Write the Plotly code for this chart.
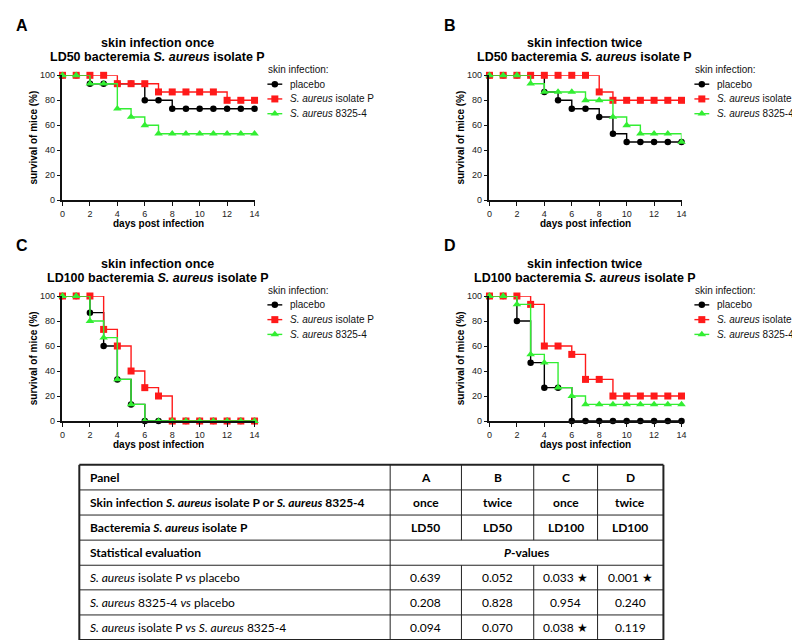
import plotly.graph_objects as go

W, H = 800, 640

# ---------------- data ----------------
days = list(range(0, 15))
x_ticks = [0, 2, 4, 6, 8, 10, 12, 14]
y_ticks = [0, 20, 40, 60, 80, 100]

series_names = ["placebo", "<i>S. aureus</i> isolate P", "<i>S. aureus</i> 8325-4"]

A_placebo = [100, 100, 93.3, 93.3, 93.3, 93.3, 80, 80, 73.3, 73.3, 73.3, 73.3, 73.3, 73.3, 73.3]
A_isolateP = [100, 100, 100, 100, 93.3, 93.3, 93.3, 86.7, 86.7, 86.7, 86.7, 86.7, 80, 80, 80]
A_8325 = [100, 100, 93.3, 93.3, 73.3, 66.7, 60, 53.3, 53.3, 53.3, 53.3, 53.3, 53.3, 53.3, 53.3]

B_placebo = [100, 100, 100, 100, 86.7, 80, 73.3, 73.3, 66.7, 53.3, 46.7, 46.7, 46.7, 46.7, 46.7]
B_isolateP = [100, 100, 100, 100, 100, 100, 100, 100, 86.7, 80, 80, 80, 80, 80, 80]
B_8325 = [100, 100, 100, 93.3, 86.7, 86.7, 86.7, 80, 80, 66.7, 60, 53.3, 53.3, 53.3, 46.7]

C_placebo = [100, 100, 86.7, 60, 33.3, 13.3, 0, 0, 0, 0, 0, 0, 0, 0, 0]
C_isolateP = [100, 100, 100, 73.3, 60, 40, 26.7, 20, 0, 0, 0, 0, 0, 0, 0]
C_8325 = [100, 100, 80, 66.7, 33.3, 13.3, 0, 0, 0, 0, 0, 0, 0, 0, 0]

D_placebo = [100, 100, 80, 46.7, 26.7, 26.7, 0, 0, 0, 0, 0, 0, 0, 0, 0]
D_isolateP = [100, 100, 100, 93.3, 60, 60, 53.3, 33.3, 33.3, 20, 20, 20, 20, 20, 20]
D_8325 = [100, 100, 93.3, 53.3, 46.7, 26.7, 20, 13.3, 13.3, 13.3, 13.3, 13.3, 13.3, 13.3, 13.3]

panel_letters = ["A", "B", "C", "D"]
title_line1 = ["skin infection once", "skin infection twice", "skin infection once", "skin infection twice"]
title_line2 = ["LD50 bacteremia <i>S. aureus</i> isolate P", "LD50 bacteremia <i>S. aureus</i> isolate P",
               "LD100 bacteremia <i>S. aureus</i> isolate P", "LD100 bacteremia <i>S. aureus</i> isolate P"]
panel_series = [[A_placebo, A_isolateP, A_8325], [B_placebo, B_isolateP, B_8325],
                [C_placebo, C_isolateP, C_8325], [D_placebo, D_isolateP, D_8325]]
legend_title = "skin infection:"
x_title = "days post infection"
y_title = "survival of mice (%)"

# table data
table_row_labels = [
    "<b>Panel</b>",
    "<b>Skin infection <i>S. aureus</i> isolate P or <i>S. aureus</i> 8325-4</b>",
    "<b>Bacteremia <i>S. aureus</i> isolate P</b>",
    "<b>Statistical evaluation</b>",
    "<i>S. aureus</i> isolate P <i>vs</i> placebo",
    "<i>S. aureus</i> 8325-4 <i>vs</i> placebo",
    "<i>S. aureus</i> isolate P <i>vs</i> <i>S. aureus</i> 8325-4",
]
table_panels = ["A", "B", "C", "D"]
table_skin = ["once", "twice", "once", "twice"]
table_bacteremia = ["LD50", "LD50", "LD100", "LD100"]
table_stat_header = "<b><i>P</i>-values</b>"
p_isolateP_vs_placebo = [0.639, 0.052, 0.033, 0.001]
p_8325_vs_placebo = [0.208, 0.828, 0.954, 0.240]
p_isolateP_vs_8325 = [0.094, 0.070, 0.038, 0.119]

# ---------------- styles / layout ----------------
colors = ["#000000", "#ff1a1a", "#33ee33"]
symbols = ["circle", "square", "triangle-up"]
msizes = [6.5, 7, 7.5]
FONT = "Liberation Sans, Arial, sans-serif"
TFONT = "Lato, Open Sans, sans-serif"
LEG_SIZE = 10

panel_left = [52, 483.3, 52, 483.3]
panel_top = [63.3, 63.3, 287.5, 287.5]
PW, PH = 194, 127


def fx(p):
    return p / W


def fy(p):
    return 1 - p / H


def ann(text, x, y, size, family=FONT, xanchor="center", color="#000", **kw):
    d = dict(text=text, x=fx(x), y=fy(y), xref="paper", yref="paper", xanchor=xanchor,
             yanchor="middle", showarrow=False, font=dict(family=family, size=size, color=color))
    d.update(kw)
    return d


fig = go.Figure()
annotations = []
shapes = []

for i in range(4):
    n = i + 1
    xa = "x" if n == 1 else f"x{n}"
    ya = "y" if n == 1 else f"y{n}"
    for s in range(3):
        fig.add_trace(go.Scatter(
            x=days, y=panel_series[i][s], mode="lines+markers",
            line=dict(shape="hv", color=colors[s], width=1.4),
            marker=dict(symbol=symbols[s], size=msizes[s], color=colors[s], line=dict(width=0)),
            cliponaxis=False, showlegend=False, xaxis=xa, yaxis=ya, name=series_names[s]))
    L, T = panel_left[i], panel_top[i]
    axkw = dict(showgrid=False, zeroline=False, showline=True, linecolor="#111", linewidth=1.5,
                ticks="outside", ticklen=4, tickwidth=1.3, tickcolor="#111",
                tickfont=dict(family=FONT, size=9, color="#222"), fixedrange=True)
    fig.update_layout({
        ("xaxis" if n == 1 else f"xaxis{n}"): dict(domain=[fx(L), fx(L + PW)], range=[0, 14],
                                                   tickvals=x_ticks, anchor=ya, **axkw),
        ("yaxis" if n == 1 else f"yaxis{n}"): dict(domain=[fy(T + PH), fy(T)], range=[0, 100],
                                                   tickvals=y_ticks, anchor=xa, **axkw),
    })
    # panel letter
    annotations.append(ann(f"<b>{panel_letters[i]}</b>", L - 49 if i % 2 == 0 else L - 48.3,
                           T - 51, 16, xanchor="left"))
    # titles
    annotations.append(ann(f"<b>{title_line1[i]}</b>", L + PW / 2 - 1, T - 32.5, 12.5))
    annotations.append(ann(f"<b>{title_line2[i]}</b>", L + PW / 2 - 1, T - 18.5, 12.5))
    # axis titles
    annotations.append(ann(f"<b>{x_title}</b>", L + PW / 2, T + PH + 23.5, 10))
    annotations.append(ann(f"<b>{y_title}</b>", L - 29, T + PH / 2, 10, textangle=-90))
    # legend
    LX = L + 206
    annotations.append(ann(legend_title, LX, T - 5.5, LEG_SIZE, xanchor="left", color="#111"))
    for s in range(3):
        yy = T + 9 + 15 * s
        fig.add_trace(go.Scatter(x=[LX + 1, LX + 16], y=[yy, yy], mode="lines",
                                 line=dict(color=colors[s], width=1.4), showlegend=False,
                                 xaxis="x5", yaxis="y5", hoverinfo="skip"))
        fig.add_trace(go.Scatter(x=[LX + 8.5], y=[yy], mode="markers",
                                 marker=dict(symbol=symbols[s], size=msizes[s], color=colors[s]),
                                 showlegend=False, xaxis="x5", yaxis="y5", hoverinfo="skip"))
        annotations.append(ann(series_names[s], LX + 22, yy, LEG_SIZE, xanchor="left", color="#111"))

fig.update_layout(
    xaxis5=dict(domain=[0, 1], range=[0, W], visible=False, fixedrange=True, anchor="y5"),
    yaxis5=dict(domain=[0, 1], range=[H, 0], visible=False, fixedrange=True, anchor="x5"),
)

# ---------------- table ----------------
tab_x = [69, 383, 455, 528, 592.5, 659]
tab_y = [459, 484.5, 510, 535.5, 561, 586, 611.5, 637]
LINE = "#222"


def fmt_p(p):
    return f"{p:.3f}" + (" ★" if p < 0.05 else "")


for k, yv in enumerate(tab_y):
    w = 2 if k in (0, len(tab_y) - 1) else 1
    shapes.append(dict(type="line", xref="paper", yref="paper", x0=fx(tab_x[0]), x1=fx(tab_x[-1]),
                       y0=fy(yv), y1=fy(yv), line=dict(color=LINE, width=w)))
for k, xv in enumerate(tab_x):
    w = 2 if k in (0, len(tab_x) - 1) else 1
    if k in (0, 1, len(tab_x) - 1):
        shapes.append(dict(type="line", xref="paper", yref="paper", x0=fx(xv), x1=fx(xv),
                           y0=fy(tab_y[0]), y1=fy(tab_y[-1]), line=dict(color=LINE, width=w)))
    else:
        for (ya0, ya1) in [(tab_y[0], tab_y[3]), (tab_y[4], tab_y[-1])]:
            shapes.append(dict(type="line", xref="paper", yref="paper", x0=fx(xv), x1=fx(xv),
                               y0=fy(ya0), y1=fy(ya1), line=dict(color=LINE, width=w)))

TSIZE = 12
for r, lab in enumerate(table_row_labels):
    yc = (tab_y[r] + tab_y[r + 1]) / 2
    annotations.append(ann(lab, tab_x[0] + 9, yc, TSIZE, family=TFONT, xanchor="left"))

row_cells = [
    [f"<b>{v}</b>" for v in table_panels],
    [f"<b>{v}</b>" for v in table_skin],
    [f"<b>{v}</b>" for v in table_bacteremia],
    None,
    [fmt_p(v) for v in p_isolateP_vs_placebo],
    [fmt_p(v) for v in p_8325_vs_placebo],
    [fmt_p(v) for v in p_isolateP_vs_8325],
]
for r, cells in enumerate(row_cells):
    yc = (tab_y[r] + tab_y[r + 1]) / 2
    if cells is None:
        annotations.append(ann(table_stat_header, (tab_x[1] + tab_x[-1]) / 2, yc, TSIZE, family=TFONT))
        continue
    for c, txt in enumerate(cells):
        xc = (tab_x[c + 1] + tab_x[c + 2]) / 2
        annotations.append(ann(txt, xc, yc, TSIZE, family=TFONT))

fig.update_layout(
    width=W, height=H, margin=dict(l=0, r=0, t=0, b=0),
    paper_bgcolor="white", plot_bgcolor="rgba(0,0,0,0)",
    showlegend=False, annotations=annotations, shapes=shapes,
    font=dict(family=FONT),
)

fig.write_html("out.html")
